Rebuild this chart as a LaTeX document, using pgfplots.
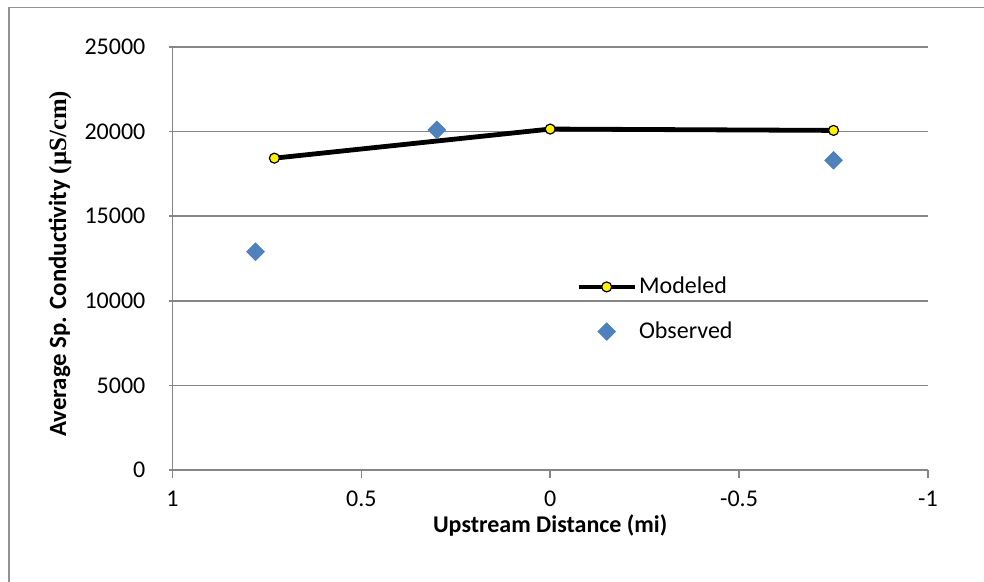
\documentclass[border=0pt]{standalone}
\usepackage{pgfplots}
\pgfplotsset{compat=1.18}
\usepackage{fontspec}
\setmainfont{Carlito}
\newfontfamily\tnr{Liberation Serif}
\definecolor{gridc}{RGB}{134,134,134}
\definecolor{obsblue}{RGB}{79,129,189}
\pgfplotsset{
  legline/.style={legend image code/.code={\draw[##1, mark repeat=2, mark phase=2] plot coordinates {(0pt,0pt)(14pt,0pt)(28pt,0pt)};}},
  legmark/.style={legend image code/.code={\draw[##1] plot coordinates {(14pt,0pt)};}},
}
\begin{document}
\begin{tikzpicture}
\useasboundingbox (0,0) rectangle (492pt,291pt);
\draw[gridc!90, line width=0.7pt] (4.5pt,-20pt) -- (4.5pt,287.25pt) -- (520pt,287.25pt);
\begin{axis}[
  at={(86.2pt,56pt)}, anchor=south west,
  scale only axis, width=377.8pt, height=211.5pt,
  x dir=reverse,
  xmin=-1, xmax=1, ymin=0, ymax=25000,
  xtick={-1,-0.5,0,0.5,1},
  ytick={0,5000,10000,15000,20000,25000},
  scaled y ticks=false,
  /pgf/number format/1000 sep={},
  /pgf/number format/assume math mode=true,
  ticklabel style={font=\fontsize{12}{14}\selectfont, text=black},
  yticklabel style={xshift=-6pt},
  xticklabel style={yshift=-3pt},
  axis x line*=bottom, axis y line*=left,
  axis line style={-, draw=gridc, line width=0.75pt},
  ymajorgrids, grid style={draw=gridc, line width=0.75pt},
  tick align=outside, major tick length=4pt,
  tick style={draw=gridc, line width=0.75pt},
  ytick style={draw=none},
  xlabel={Upstream Distance (mi)},
  ylabel={Average Sp. Conductivity {\tnr(µS/cm)}},
  label style={font=\fontsize{12}{14}\selectfont\bfseries},
  xlabel style={at={(axis description cs:0.5,-0.130)}, anchor=center},
  ylabel style={font=\fontsize{12.4}{14}\selectfont\bfseries, at={(axis description cs:-0.1488,0.487)}, anchor=center, rotate=0},
  legend style={draw=none, fill=none, at={(axis description cs:0.534,0.380)}, anchor=west,
    inner sep=0pt, row sep=8.5pt, font=\fontsize{12}{14}\selectfont,
    nodes={inner xsep=1pt},
    /tikz/every even column/.append style={column sep=0pt}},
  legend cell align=left,
  clip=false,
]
\addplot[black, line width=2.4pt, mark=*, mark size=2.5pt,
  mark options={fill=yellow, draw=black, line width=0.6pt}, legline]
  coordinates {(0.73,18430) (0,20150) (-0.75,20070)};
\addlegendentry{Modeled}
\addplot[only marks, mark=square*, mark size=3.1pt,
  mark options={rotate=45, fill=obsblue, draw=obsblue}, legmark]
  coordinates {(0.78,12900) (0.30,20100) (-0.75,18300)};
\addlegendentry{Observed}
\pgfplotsinvokeforeach{0,0.2,0.4,0.6,0.8,1}{
  \draw[gridc, line width=0.75pt] ([xshift=-1.6pt]rel axis cs:0,#1) -- (rel axis cs:0,#1);
}
\end{axis}
\end{tikzpicture}
\end{document}
